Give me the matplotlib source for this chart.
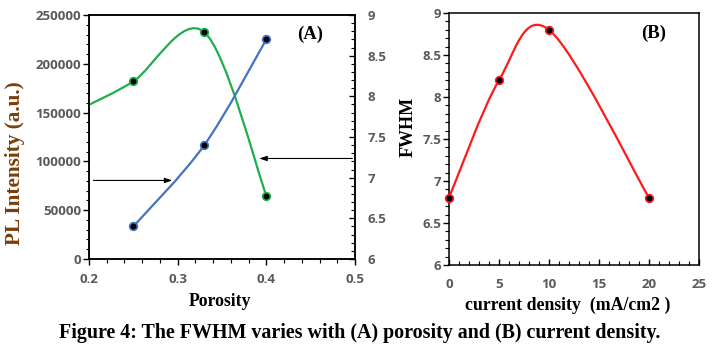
import matplotlib
matplotlib.use("Agg")
import matplotlib.pyplot as plt
from matplotlib.path import Path
from matplotlib.patches import PathPatch
from matplotlib.ticker import MultipleLocator

# ---------------- data ----------------
porosity = [0.25, 0.33, 0.40]
pl_intensity = [182000, 232500, 65000]
# green curve continues to the left edge of the plot
pl_line_x = [0.20, 0.25, 0.33, 0.40]
pl_line_y = [158000, 182000, 232500, 65000]

fwhm_por = [6.4, 7.4, 8.7]

current_density = [0, 5, 10, 20]
fwhm_cd = [6.8, 8.2, 8.8, 6.8]

GREEN = "#1fae4b"
BLUE = "#4472c4"
RED = "#ff1a1a"
TICK_GREY = "#595959"
BROWN = "#7a3d08"

W, H = 719, 351
fig = plt.figure(figsize=(W / 100, H / 100), dpi=100)


def px_rect(l, t, r, b):
    return [l / W, 1 - b / H, (r - l) / W, (b - t) / H]


def smooth(ax, xs, ys, color, lw=1.6, zorder=3):
    """Excel-like smoothed line through points (cubic Bezier)."""
    pts = list(zip(xs, ys))
    n = len(pts)
    verts = [pts[0]]
    codes = [Path.MOVETO]
    for i in range(n - 1):
        p0 = pts[i - 1] if i > 0 else pts[i]
        p1 = pts[i]
        p2 = pts[i + 1]
        p3 = pts[i + 2] if i + 2 < n else pts[i + 1]
        c1 = (p1[0] + (p2[0] - p0[0]) / 6, p1[1] + (p2[1] - p0[1]) / 6)
        c2 = (p2[0] - (p3[0] - p1[0]) / 6, p2[1] - (p3[1] - p1[1]) / 6)
        verts += [c1, c2, p2]
        codes += [Path.CURVE4] * 3
    patch = PathPatch(Path(verts, codes), facecolor="none", edgecolor=color,
                      lw=lw, zorder=zorder, capstyle="round")
    ax.add_patch(patch)


tick_font = dict(family="Open Sans", size=9.5)

# ---------------- panel A ----------------
axA = fig.add_axes(px_rect(89, 15, 355, 259))
axA.set_xlim(0.2, 0.5)
axA.set_ylim(0, 250000)
axA.xaxis.set_major_locator(MultipleLocator(0.1))
axA.xaxis.set_minor_locator(MultipleLocator(0.02))
axA.yaxis.set_major_locator(MultipleLocator(50000))
axA.yaxis.set_minor_locator(MultipleLocator(10000))
axA.set_xticks([0.2, 0.3, 0.4, 0.5])
axA.set_xticklabels(["0.2", "0.3", "0.4", "0.5"])
axA.set_yticks([0, 50000, 100000, 150000, 200000, 250000])
axA.set_yticklabels(["0", "50000", "100000", "150000", "200000", "250000"])
axA.tick_params(axis="y", which="both", direction="out", pad=1.5, colors="black",
                labelcolor=TICK_GREY)
axA.tick_params(axis="y", which="major", length=4, width=1)
axA.tick_params(axis="y", which="minor", length=2.5, width=0.8)
axA.tick_params(axis="x", which="both", direction="out", pad=6, colors="black",
                labelcolor=TICK_GREY)
axA.tick_params(axis="x", which="major", length=4, width=1)
axA.tick_params(axis="x", which="minor", length=3, width=0.8)
for lab in axA.get_xticklabels() + axA.get_yticklabels():
    lab.set_fontfamily(tick_font["family"])
    lab.set_fontsize(tick_font["size"])
    lab.set_fontweight("bold")
for s in axA.spines.values():
    s.set_linewidth(1.1)

smooth(axA, pl_line_x, pl_line_y, GREEN)
axA.plot(porosity, pl_intensity, "o", ms=5.5, mfc="black", mec=GREEN, mew=1.2,
         zorder=5, clip_on=False)

axA2 = axA.twinx()
axA2.set_ylim(6, 9)
axA2.yaxis.set_major_locator(MultipleLocator(0.5))
axA2.yaxis.set_minor_locator(MultipleLocator(0.1))
axA2.set_yticks([6, 6.5, 7, 7.5, 8, 8.5, 9])
axA2.set_yticklabels(["6", "6.5", "7", "7.5", "8", "8.5", "9"])
axA2.tick_params(axis="y", which="both", direction="in", pad=9, colors="black",
                 labelcolor=TICK_GREY)
axA2.tick_params(axis="y", which="major", length=4, width=1)
axA2.tick_params(axis="y", which="minor", length=3, width=0.8)
for lab in axA2.get_yticklabels():
    lab.set_fontfamily(tick_font["family"])
    lab.set_fontsize(tick_font["size"])
    lab.set_fontweight("bold")
for s in axA2.spines.values():
    s.set_linewidth(1.1)

smooth(axA2, porosity, fwhm_por, BLUE)
axA2.plot(porosity, fwhm_por, "o", ms=5.5, mfc="black", mec=BLUE, mew=1.2,
          zorder=5, clip_on=False)

# arrows pointing to the respective axes
arrow_kw = dict(arrowstyle="-|>,head_length=0.45,head_width=0.15", color="black",
                lw=0.8, shrinkA=0, shrinkB=0)
axA.annotate("", xy=(0.294, 80500), xytext=(0.205, 80500), arrowprops=arrow_kw)
axA.annotate("", xy=(0.392, 103000), xytext=(0.497, 103000), arrowprops=arrow_kw)

axA.text(0.83, 0.92, "(A)", transform=axA.transAxes, ha="center", va="center",
         family="Liberation Serif", fontweight="bold", fontsize=13.5)

# ---------------- panel B ----------------
axB = fig.add_axes(px_rect(449, 13, 699, 265))
axB.set_xlim(0, 25)
axB.set_ylim(6, 9)
axB.xaxis.set_minor_locator(MultipleLocator(1))
axB.yaxis.set_minor_locator(MultipleLocator(0.1))
axB.set_xticks([0, 5, 10, 15, 20, 25])
axB.set_xticklabels(["0", "5", "10", "15", "20", "25"])
axB.set_yticks([6, 6.5, 7, 7.5, 8, 8.5, 9])
axB.set_yticklabels(["6", "6.5", "7", "7.5", "8", "8.5", "9"])
axB.tick_params(axis="y", which="both", direction="out", pad=1.5, colors="black",
                labelcolor=TICK_GREY)
axB.tick_params(axis="y", which="major", length=4, width=1)
axB.tick_params(axis="y", which="minor", length=3, width=0.8)
axB.tick_params(axis="x", which="both", direction="in", pad=9, colors="black",
                labelcolor=TICK_GREY)
axB.tick_params(axis="x", which="major", length=4, width=1)
axB.tick_params(axis="x", which="minor", length=3, width=0.8)
for lab in axB.get_xticklabels() + axB.get_yticklabels():
    lab.set_fontfamily(tick_font["family"])
    lab.set_fontsize(tick_font["size"])
    lab.set_fontweight("bold")
for s in axB.spines.values():
    s.set_linewidth(1.1)

smooth(axB, current_density, fwhm_cd, RED)
axB.plot(current_density, fwhm_cd, "o", ms=5.5, mfc="black", mec=RED, mew=1.2,
         zorder=5, clip_on=False)

axB.text(0.82, 0.92, "(B)", transform=axB.transAxes, ha="center", va="center",
         family="Liberation Serif", fontweight="bold", fontsize=13.5)

# ---------------- labels ----------------
def ftext(xp, yp, s, **kw):
    fig.text(xp / W, 1 - yp / H, s, ha="center", va="center",
             family="Liberation Serif", fontweight="bold", **kw)

ftext(220, 302, "Porosity", fontsize=12.8)
ftext(15, 163, "PL Intensity (a.u.)", fontsize=15.3, rotation=90, color=BROWN)
ftext(408, 127, "FWHM", fontsize=13, rotation=90)
ftext(568, 305, "current density  (mA/cm2 )", fontsize=12.8)
ftext(360, 333, "Figure 4: The FWHM varies with (A) porosity and (B) current density.",
      fontsize=14.4)

fig.savefig("out.png", dpi=100)
